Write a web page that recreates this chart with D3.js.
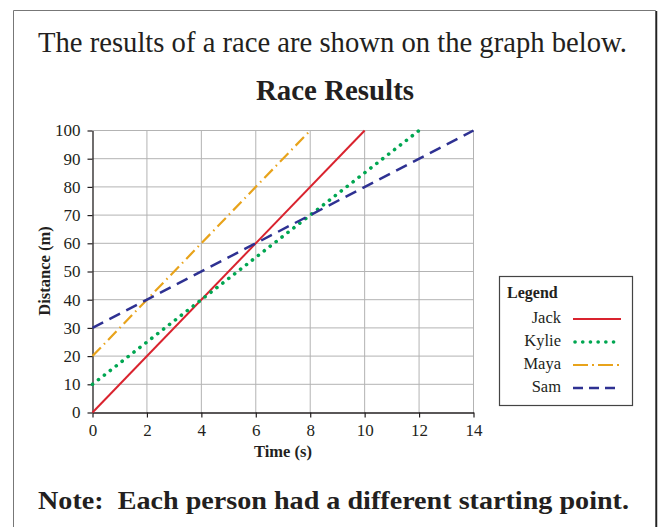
<!DOCTYPE html>
<html>
<head>
<meta charset="utf-8">
<script src="https://cdn.jsdelivr.net/npm/d3@7"></script>
<style>
  body { margin: 0; background: #fff; }
  svg { display: block; font-family: "Liberation Serif", "Times New Roman", serif; }
</style>
</head>
<body>
<svg id="chart" width="662" height="527"></svg>
<script>
// data
var runners = ["Jack", "Kylie", "Maya", "Sam"];
var timeStart = [0, 0, 0, 0];
var timeEnd = [10, 12, 8, 14];
var distStart = [0, 10, 20, 30];
var distEnd = [100, 100, 100, 100];
var xTicks = [0, 2, 4, 6, 8, 10, 12, 14];
var yTicks = [0, 10, 20, 30, 40, 50, 60, 70, 80, 90, 100];

var colors = { Jack: "#d9232e", Kylie: "#00a651", Maya: "#e8a31b", Sam: "#2e3192" };
var dashes = { Jack: null, Kylie: "0.1 7.4", Maya: "12 4.5 1.5 4.5", Sam: "12 7" };
var widths = { Jack: 2, Kylie: 3.6, Maya: 2.2, Sam: 2.5 };
var caps = { Jack: "butt", Kylie: "round", Maya: "butt", Sam: "butt" };

var svg = d3.select("#chart");

// frame
svg.append("path")
  .attr("d", "M13.5,540 L13.5,10.5 L655.5,10.5 L655.5,540")
  .attr("fill", "none").attr("stroke", "#777").attr("stroke-width", 1);
svg.append("line").attr("x1", 656.5).attr("x2", 656.5).attr("y1", 11).attr("y2", 540)
  .attr("stroke", "#222").attr("stroke-width", 1.5);

svg.append("text").attr("x", 332.5).attr("y", 52).attr("text-anchor", "middle")
  .attr("font-size", 29.5).attr("fill", "#231f20")
  .attr("textLength", 589).attr("lengthAdjust", "spacingAndGlyphs")
  .text("The results of a race are shown on the graph below.");
svg.append("text").attr("x", 335).attr("y", 100).attr("text-anchor", "middle")
  .attr("font-size", 28.5).attr("font-weight", "bold").attr("fill", "#231f20")
  .attr("textLength", 158).attr("lengthAdjust", "spacingAndGlyphs")
  .text("Race Results");

var x = d3.scaleLinear().domain([0, 14]).range([92.5, 473.5]);
var y = d3.scaleLinear().domain([0, 100]).range([412.5, 130.5]);

var g = svg.append("g");

// grid
g.selectAll(".vg").data(xTicks.slice(1)).enter().append("line")
  .attr("x1", function(d){ return x(d); }).attr("x2", function(d){ return x(d); })
  .attr("y1", y(0)).attr("y2", y(100))
  .attr("stroke", "#b3b3b3").attr("stroke-width", 1);
g.selectAll(".hg").data(yTicks.slice(1)).enter().append("line")
  .attr("x1", x(0)).attr("x2", x(14))
  .attr("y1", function(d){ return y(d); }).attr("y2", function(d){ return y(d); })
  .attr("stroke", "#b3b3b3").attr("stroke-width", 1);

// axes
var xAxis = g.append("g").attr("transform", "translate(0," + y(0) + ")")
  .call(d3.axisBottom(x).tickValues(xTicks).tickSize(5).tickPadding(6).tickSizeOuter(0));
var yAxis = g.append("g").attr("transform", "translate(" + x(0) + ",0)")
  .call(d3.axisLeft(y).tickValues(yTicks).tickSize(5).tickPadding(7).tickSizeOuter(0));
[xAxis, yAxis].forEach(function(a){
  a.attr("font-family", null).attr("font-size", null);
  a.select(".domain").attr("stroke", "#231f20").attr("stroke-width", 1.3);
  a.selectAll(".tick line").attr("stroke", "#231f20").attr("stroke-width", 1.2);
  a.selectAll("text").attr("font-size", 17).attr("fill", "#231f20");
});

svg.append("text").attr("x", 283).attr("y", 457).attr("text-anchor", "middle")
  .attr("font-size", 16.5).attr("font-weight", "bold").attr("fill", "#231f20")
  .text("Time (s)");
svg.append("text").attr("transform", "translate(50,271) rotate(-90)")
  .attr("text-anchor", "middle")
  .attr("font-size", 16.5).attr("font-weight", "bold").attr("fill", "#231f20")
  .text("Distance (m)");

// lines
var line = d3.line().x(function(d){ return x(d[0]); }).y(function(d){ return y(d[1]); });
runners.forEach(function(r, i){
  g.append("path")
    .datum([[timeStart[i], distStart[i]], [timeEnd[i], distEnd[i]]])
    .attr("d", line)
    .attr("fill", "none")
    .attr("stroke", colors[r])
    .attr("stroke-width", widths[r])
    .attr("stroke-linecap", caps[r])
    .attr("stroke-dasharray", dashes[r]);
});

// legend
var lg = svg.append("g");
lg.append("rect").attr("x", 499.5).attr("y", 276.5).attr("width", 133).attr("height", 129)
  .attr("fill", "#fff").attr("stroke", "#444").attr("stroke-width", 1.2);
lg.append("text").attr("x", 507).attr("y", 298).attr("font-size", 16)
  .attr("font-weight", "bold").attr("fill", "#231f20").text("Legend");
runners.forEach(function(r, i){
  var ly = 320 + i * 23;
  lg.append("text").attr("x", 561).attr("y", ly + 2.5).attr("text-anchor", "end")
    .attr("font-size", 16.5).attr("fill", "#231f20").text(r);
  lg.append("line").attr("x1", r === "Kylie" ? 575 : 573).attr("x2", 621).attr("y1", ly - 1).attr("y2", ly - 1)
    .attr("stroke", colors[r])
    .attr("stroke-width", widths[r])
    .attr("stroke-linecap", caps[r])
    .attr("stroke-dasharray", r === "Maya" ? "15 4 2 4" : (r === "Sam" ? "10 6" : (r === "Kylie" ? "0.1 7.6" : dashes[r])));
});

svg.append("text").attr("x", 333.5).attr("y", 509).attr("text-anchor", "middle")
  .attr("font-size", 25).attr("font-weight", "bold").attr("fill", "#231f20")
  .attr("xml:space", "preserve")
  .attr("textLength", 591).attr("lengthAdjust", "spacingAndGlyphs")
  .text("Note:  Each person had a different starting point.");
</script>
</body>
</html>
